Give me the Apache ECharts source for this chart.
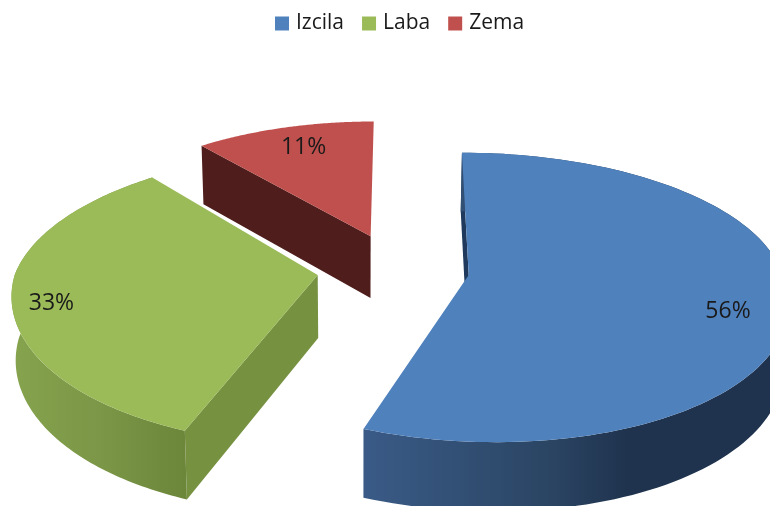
<!DOCTYPE html>
<html><head><meta charset="utf-8">
<style>html,body{margin:0;padding:0;background:#fff}#c{width:770px;height:506px}</style>
<script src="https://cdn.jsdelivr.net/npm/echarts@6/dist/echarts.min.js"></script>
</head><body><div id="c"></div>
<script>
var categories = ['Izcila', 'Laba', 'Zema'];
var values = [56, 33, 11];
var topColors = ['#4f81bd', '#9bbb59', '#c0504d'];
var wallColors = ['#1f3a5c', '#76913f', '#4f1e1c'];
var wallStops = [
  [[0,'#3a5b87'],[0.45,'#2a4462'],[0.62,'#1f334e'],[1,'#1f334e']],
  [[0,'#86a34e'],[0.5,'#7b9747'],[1,'#6c863a']],
  [[0,'#4f1e1c'],[1,'#4f1e1c']]
];
var showRim = [true, true, false];
var offsetX = [0.376, -0.110, 0.057];
var offsetY = [-0.020, -0.020, 0.255];
var scaleX = [1.01, 0.975, 0.97];
var scaleYBack = [0.94, 0.95, 0.94];
var scaleYFront = [1.015, 1.025, 1];
var frontSkew = [0.05, 0.012, 0];
var backSkew = [0, 0.025, 0];
var labelRadius = [0.82, 0.875, 0.8];
var labelTurn = [6.5, -3.5, 1];

var CX = 352, CY = 272, A = 310, B = 144, K = 0.12, D = 63, VX = 360, VT = 0.012, SKEW = 6;
var FONT = '"Open Sans", sans-serif';

function project(X, Y, down) {
  var s = 1 / (1 + K * Y);
  var x = CX + (A * X + SKEW * Y) * s;
  var y = CY - B * Y * s;
  if (down) { x += (VX - x) * VT; y += D * (1 + (s - 1) * 0.7); }
  return [x, y];
}
var total = values.reduce(function (a, b) { return a + b; }, 0);
var angleSpans = (function () {
  var acc = 0;
  return values.map(function (v) {
    var a0 = acc / total * 2 * Math.PI; acc += v;
    return [a0, acc / total * 2 * Math.PI];
  });
})();

function disc(i, theta, r) {
  var c = Math.cos(theta);
  var yr = r * c * (c < 0 ? scaleYFront[i] : scaleYBack[i]);
  var xr = r * scaleX[i] * Math.sin(theta);
  xr += yr < 0 ? frontSkew[i] * (-yr) : backSkew[i] * yr;
  return [offsetX[i] + xr, offsetY[i] + yr];
}
function renderSlice(i) {
  var a0 = angleSpans[i][0], a1 = angleSpans[i][1], n = 120, topArc = [], botArc = [], j;
  var frontXs = [];
  for (j = 0; j <= n; j++) {
    var p = disc(i, a0 + (a1 - a0) * j / n, 1);
    topArc.push(project(p[0], p[1], false));
    botArc.push(project(p[0], p[1], true));
    if (p[1] - offsetY[i] < 0.1) frontXs.push(topArc[j][0]);
  }
  var apexT = project(offsetX[i], offsetY[i], false), apexB = project(offsetX[i], offsetY[i], true);
  var topFace = [apexT].concat(topArc);
  var outer = topArc.concat(botArc.slice().reverse());
  if (!frontXs.length) frontXs = topArc.map(function (q) { return q[0]; });
  var gx0 = Math.min.apply(null, frontXs), gx1 = Math.max.apply(null, frontXs);
  var mid = (a0 + a1) / 2 + labelTurn[i] * Math.PI / 180;
  var lp = disc(i, mid, labelRadius[i]), lxy = project(lp[0], lp[1], false);
  var kids = [
    { type: 'polygon', shape: { points: [apexT, topArc[0], botArc[0], apexB] }, style: { fill: wallColors[i] } }
  ];
  if (showRim[i]) {
    kids.push({ type: 'polygon', shape: { points: outer }, style: { fill: {
      type: 'linear', x: gx0, y: 0, x2: gx1, y2: 0, global: true,
      colorStops: wallStops[i].map(function (s) { return { offset: s[0], color: s[1] }; })
    } } });
  }
  kids.push({ type: 'polygon', shape: { points: topFace }, style: { fill: topColors[i] } });
  kids.push({ type: 'text', style: {
    x: lxy[0], y: lxy[1], text: Math.round(values[i] / total * 100) + '%',
    fill: '#1a1a1a', font: '23px ' + FONT, align: 'center', verticalAlign: 'middle' } });
  return { type: 'group', children: kids };
}

var chart = echarts.init(document.getElementById('c'), null, { renderer: 'canvas' });
chart.setOption({
  animation: false,
  backgroundColor: '#fff',
  legend: {
    data: categories, left: 270, top: 8, icon: 'rect', itemWidth: 14, itemHeight: 14, itemGap: 18,
    selectedMode: false, textStyle: { fontFamily: FONT, fontSize: 21, color: '#1a1a1a', padding: [0, 0, 0, 2] }
  },
  series: categories.map(function (name, i) {
    return {
      type: 'custom', name: name, coordinateSystem: 'none', silent: true,
      itemStyle: { color: topColors[i] },
      data: [values[i]],
      renderItem: function () { return renderSlice(i); }
    };
  })
});
</script></body></html>
